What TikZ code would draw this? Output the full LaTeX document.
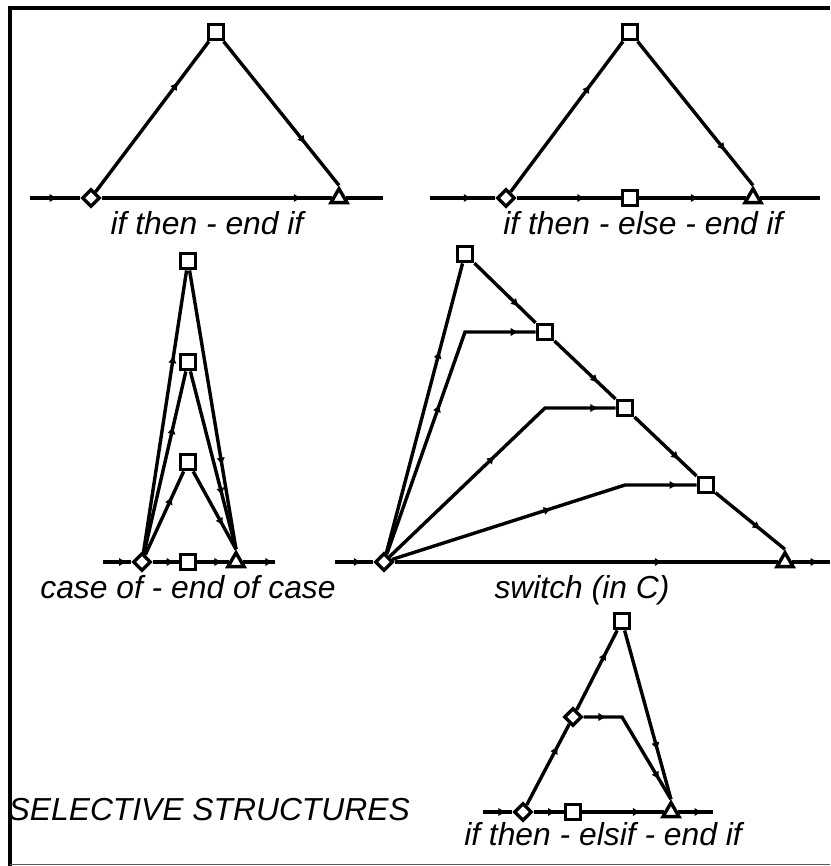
\documentclass[tikz,border=0pt]{standalone}
\usepackage{fontspec}
\setmainfont{Liberation Sans}
\usetikzlibrary{arrows.meta,shapes.geometric,decorations.markings}

\tikzset{
  flow/.style={postaction={decorate},decoration={markings,
    mark=at position #1 with {\arrow{Latex[length=8pt,width=8.5pt]}}}},
  flow/.default=0.7,
  flowtwo/.style 2 args={postaction={decorate},decoration={markings,
    mark=at position #1 with {\arrow{Latex[length=8pt,width=8.5pt]}},
    mark=at position #2 with {\arrow{Latex[length=8pt,width=8.5pt]}}}},
  stmtbox/.style={draw,rectangle,fill=white,minimum size=15.5pt,inner sep=0pt},
  condbox/.style={draw,diamond,fill=white,minimum size=18pt,inner sep=0pt},
  endbox/.style={draw,regular polygon,regular polygon sides=3,fill=white,
    minimum size=18.5pt,inner sep=0pt},
  lbltext/.style={font=\fontsize{31.8}{36}\selectfont\itshape,anchor=base,inner sep=0pt},
}

\begin{document}
\begin{tikzpicture}[x=1pt,y=-1pt,line width=3.4pt,>=Latex]
  \useasboundingbox (0,0) rectangle (830,866);
  % frame
  \draw[line width=4pt] (10,866) -- (10,8) -- (830,8);
  \draw[line width=1.5pt,gray!70!black] (10,864.5) -- (830,864.5);

  % if then - end if
  \coordinate (a1) at (30,198);
  \coordinate (b1) at (383,198);
  \node[condbox] (c1) at (91,198) {};
  \node[stmtbox] (s1) at (216,32) {};
  \node[endbox] (t1) at (339,198) {};
  \draw[flow=0.55] (a1) -- (c1);
  \draw[flow=0.87] (c1) -- (t1);
  \draw (t1) -- (b1);
  \draw[flow=0.73] (c1) -- (s1);
  \draw[flow=0.71] (s1) -- (t1.corner 1);
  \node[lbltext] at (207,235) {if then - end if};

  % if then - else - end if
  \coordinate (a2) at (430,198);
  \coordinate (b2) at (820,198);
  \node[condbox] (c2) at (506,198) {};
  \node[stmtbox] (s2) at (630,32) {};
  \node[stmtbox] (q2) at (630,198) {};
  \node[endbox] (t2) at (753,198) {};
  \draw[flow=0.64] (a2) -- (c2);
  \draw[flow=0.66] (c2) -- (q2);
  \draw[flow=0.56] (q2) -- (t2);
  \draw (t2) -- (b2);
  \draw[flow=0.71] (c2) -- (s2);
  \draw[flow=0.76] (s2) -- (t2.corner 1);
  \node[lbltext] at (643,235) {if then - else - end if};

  % case of - end of case
  \coordinate (a3) at (103,562);
  \coordinate (b3) at (275,562);
  \node[condbox] (c3) at (142,562) {};
  \node[stmtbox] (q3) at (188,562) {};
  \node[endbox] (t3) at (236,562) {};
  \foreach \n/\y in {a/261,b/362,c/462}
    \node[stmtbox] (s3\n) at (188,\y) {};
  \draw[flow=0.85] (a3) -- (c3);
  \draw[flow=0.85] (c3) -- (q3);
  \draw[flow=0.8] (q3) -- (t3);
  \draw[flow=0.95] (t3) -- (b3);
  \foreach \n in {a,b,c} {
    \draw[flow] (c3) -- (s3\n);
    \draw[flow] (s3\n) -- (t3.corner 1);
  }
  \node[lbltext] at (188,598) {case of - end of case};

  % switch (in C)
  \coordinate (a4) at (335,562);
  \coordinate (b4) at (830,562);
  \node[condbox] (c4) at (384,562) {};
  \node[endbox] (t4) at (785,562) {};
  \node[stmtbox] (s4a) at (465,254) {};
  \node[stmtbox] (s4b) at (545,332) {};
  \node[stmtbox] (s4c) at (625,408) {};
  \node[stmtbox] (s4d) at (706,485) {};
  \coordinate (k4b) at (s4a |- s4b);
  \coordinate (k4c) at (s4b |- s4c);
  \coordinate (k4d) at (s4c |- s4d);
  \draw[flow] (a4) -- (c4);
  \draw[flow] (c4) -- (t4);
  \draw[flow] (t4) -- (b4);
  \draw[flow] (c4) -- (s4a);
  \draw[flowtwo={0.52}{0.945}] (c4) -- (k4b) -- (s4b);
  \draw[flowtwo={0.51}{0.94}] (c4) -- (k4c) -- (s4c);
  \draw[flowtwo={0.53}{0.94}] (c4) -- (k4d) -- (s4d);
  \draw[flow=0.73] (s4a) -- (s4b);
  \draw[flow=0.72] (s4b) -- (s4c);
  \draw[flow=0.72] (s4c) -- (s4d);
  \draw[flow=0.65] (s4d) -- (t4.corner 1);
  \node[lbltext] at (582,598) {switch (in C)};

  % if then - elsif - end if
  \coordinate (a5) at (483,812);
  \coordinate (b5) at (713,812);
  \node[condbox] (c5) at (523,812) {};
  \node[stmtbox] (q5) at (573,812) {};
  \node[endbox] (t5) at (671,812) {};
  \node[stmtbox] (s5) at (622,621) {};
  \node[condbox] (d5) at (573,717) {};
  \coordinate (k5) at (s5 |- d5);
  \draw[flow=0.8] (a5) -- (c5);
  \draw[flow=0.75] (c5) -- (q5);
  \draw[flow=0.72] (q5) -- (t5);
  \draw[flow] (t5) -- (b5);
  \draw[flow=0.73] (c5) -- (d5);
  \draw[flow=0.73] (d5) -- (s5);
  \draw[flowtwo={0.17}{0.83}] (d5) -- (k5) -- (t5.corner 1);
  \draw[flow=0.71] (s5) -- (t5.corner 1);
  \node[lbltext] at (603,845) {if then - elsif - end if};

  \node[lbltext,anchor=base west] at (7,820) {SELECTIVE STRUCTURES};
\end{tikzpicture}
\end{document}
